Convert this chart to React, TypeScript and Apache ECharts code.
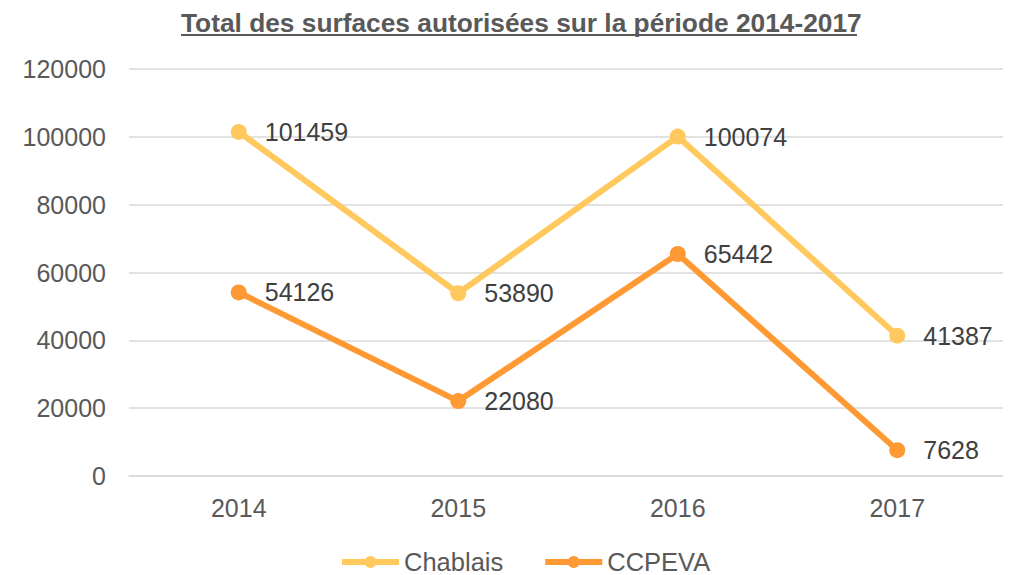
import React, { useEffect, useRef } from "react";
import * as echarts from "echarts";

const categories = ["2014", "2015", "2016", "2017"];
const chablais = [101459, 53890, 100074, 41387];
const ccpeva = [54126, 22080, 65442, 7628];
const titleText = "Total des surfaces autorisées sur la période 2014-2017";

export default function App() {
  const ref = useRef<HTMLDivElement>(null);
  useEffect(() => {
    const chart = echarts.init(ref.current!, null, { renderer: "svg" });
    const font = "Liberation Sans, Arial, sans-serif";
    const mkSeries = (name: string, data: number[], color: string) => ({
      name,
      type: "line",
      data,
      symbol: "circle",
      symbolSize: 16,
      lineStyle: { width: 6, color },
      itemStyle: { color },
      label: {
        show: true,
        position: "right",
        distance: 18,
        fontSize: 25,
        color: "#404040",
        fontFamily: font,
      },
    });
    chart.setOption({
      animation: false,
      textStyle: { fontFamily: font },
      title: {
        text: titleText,
        left: 176,
        top: 5,
        textStyle: { fontSize: 26.3, fontWeight: "bold", color: "#595959", fontFamily: font },
      },
      graphic: [
        {
          type: "line",
          shape: { x1: 181, y1: 35, x2: 857, y2: 35 },
          style: { stroke: "#595959", lineWidth: 2 },
        },
      ],
      legend: {
        top: 549,
        left: 339,
        padding: 0,
        itemWidth: 57,
        itemHeight: 15,
        itemGap: 39,
        lineStyle: { width: 6 },
        textStyle: { fontSize: 25.5, lineHeight: 25, color: "#595959", fontFamily: font },
        data: ["Chablais", "CCPEVA"],
      },
      grid: { left: 129, right: 4, top: 69, bottom: 99, containLabel: false },
      xAxis: {
        type: "category",
        data: categories,
        boundaryGap: true,
        axisLine: { lineStyle: { color: "#d9d9d9", width: 1.5 } },
        axisTick: { show: false },
        axisLabel: { fontSize: 25, color: "#595959", margin: 19, fontFamily: font },
      },
      yAxis: {
        type: "value",
        min: 0,
        max: 120000,
        interval: 20000,
        axisLine: { show: false },
        axisTick: { show: false },
        splitLine: { lineStyle: { color: "#d9d9d9", width: 1.5 } },
        axisLabel: {
          fontSize: 25,
          color: "#595959",
          margin: 23,
          fontFamily: font,
          formatter: (v: number) => String(v),
        },
      },
      series: [
        mkSeries("Chablais", chablais, "#FFC95E"),
        mkSeries("CCPEVA", ccpeva, "#FF9933"),
      ],
    });
    return () => chart.dispose();
  }, []);
  return <div ref={ref} style={{ width: 1011, height: 575, margin: "-8px -8px 0 -8px" }} />;
}
